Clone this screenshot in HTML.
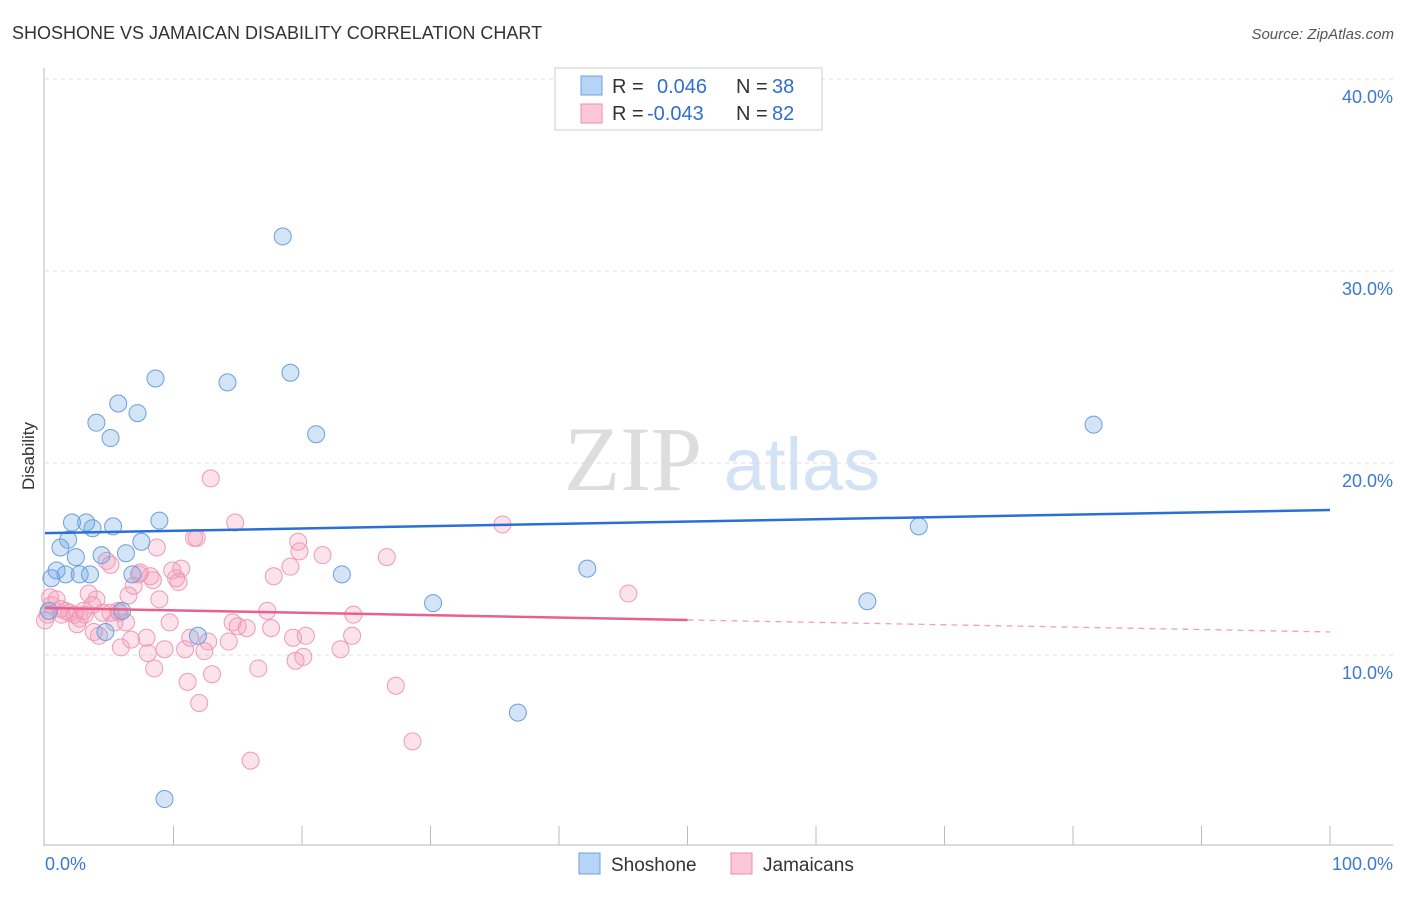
<!DOCTYPE html>
<html><head><meta charset="utf-8"><style>
body{margin:0;background:#fff;font-family:"Liberation Sans",sans-serif;}
svg text{font-family:"Liberation Sans",sans-serif;}
</style></head><body>
<svg id="chart" width="1406" height="892">
<text x="12" y="39" font-size="18" fill="#333">SHOSHONE VS JAMAICAN DISABILITY CORRELATION CHART</text>
<text x="1394" y="39" font-size="15" fill="#555" font-style="italic" text-anchor="end">Source: ZipAtlas.com</text>
<text x="34" y="456" font-size="17" fill="#333" text-anchor="middle" transform="rotate(-90 34 456)">Disability</text>
<g>
<text x="633" y="490" font-size="92" fill="#ddd" font-family="Liberation Serif" text-anchor="middle" style="font-family:'Liberation Serif',serif">ZIP</text>
<text x="802" y="490" font-size="74" fill="#d3e2f4" text-anchor="middle">atlas</text>
</g>
<g id="grid"></g><g id="axes"></g><g id="pts"></g><g id="trend"></g>
<g>
<rect x="555" y="68" width="267" height="62" fill="#fff" stroke="#ccc"/>
<rect x="581" y="76" width="21" height="19" fill="#b7d3f5" stroke="#6ca2e3"/>
<rect x="581" y="104" width="21" height="19" fill="#fcc7d6" stroke="#ec8eac"/>
<text x="612" y="93" font-size="20" fill="#333">R =</text><text x="657" y="93" font-size="20" fill="#2f6fd0">0.046</text>
<text x="736" y="93" font-size="20" fill="#333">N =</text><text x="772" y="93" font-size="20" fill="#2f6fd0">38</text>
<text x="612" y="120" font-size="20" fill="#333">R =</text><text x="647" y="120" font-size="20" fill="#2f6fd0">-0.043</text>
<text x="736" y="120" font-size="20" fill="#333">N =</text><text x="772" y="120" font-size="20" fill="#2f6fd0">82</text>
</g>
<g>
<rect x="579" y="853" width="21" height="21" fill="#b7d3f5" stroke="#6ca2e3"/>
<text x="611" y="871" font-size="19" fill="#333">Shoshone</text>
<rect x="731" y="853" width="21" height="21" fill="#fcc7d6" stroke="#ec8eac"/>
<text x="763" y="871" font-size="19" fill="#333">Jamaicans</text>
</g>
</svg>
<script>
const yTicks=[10,20,30,40];
const yTickLabels=["10.0%","20.0%","30.0%","40.0%"];
const xTickLabels=["0.0%","100.0%"];
const shoshoneX=[18.5,19.1,8.6,14.2,5.7,7.2,4.0,21.1,5.1,81.6,2.1,3.2,5.3,8.9,3.7,68.0,1.8,7.5,1.2,6.3,4.4,2.4,0.9,0.5,1.6,2.7,3.5,6.8,23.1,42.2,6.0,30.2,64.0,0.3,4.7,11.9,36.8,9.3];
const shoshoneY=[31.8,24.7,24.4,24.2,23.1,22.6,22.1,21.5,21.3,22.0,16.9,16.9,16.7,17.0,16.6,16.7,16.0,15.9,15.6,15.3,15.2,15.1,14.4,14.0,14.2,14.2,14.2,14.2,14.2,14.5,12.3,12.7,12.8,12.3,11.2,11.0,7.0,2.5];
const jamX=[12.9,14.8,35.6,11.6,11.8,8.7,19.7,19.8,21.6,26.6,4.8,5.1,19.1,17.8,7.3,8.4,10.2,10.6,9.9,8.2,10.4,6.9,6.5,3.4,4.0,8.9,45.4,0.4,0.9,0.5,1.2,1.6,1.9,2.3,2.7,3.1,4.5,5.1,5.8,6.3,5.4,0.2,0.0,1.3,2.5,17.3,24.0,9.7,14.6,15.0,15.7,17.6,3.8,4.2,6.7,7.9,11.3,12.7,14.3,19.3,20.3,23.9,5.9,9.3,10.9,12.4,23.0,8.0,16.6,19.5,20.1,8.5,13.0,11.1,27.3,12.0,28.6,16.0,7.4,5.7,3.7,3.0];
const jamY=[19.2,16.9,16.8,16.1,16.1,15.6,15.9,15.4,15.2,15.1,14.9,14.7,14.6,14.1,14.2,13.9,14.0,14.5,14.4,14.1,13.8,13.6,13.1,13.2,12.9,12.9,13.2,13.0,12.9,12.6,12.4,12.3,12.2,12.1,11.9,12.1,12.2,12.2,12.2,11.7,11.7,12.1,11.8,12.1,11.6,12.3,12.1,11.7,11.7,11.5,11.4,11.4,11.2,11.0,10.8,10.9,10.9,10.7,10.7,10.9,11.0,11.0,10.4,10.3,10.3,10.2,10.3,10.1,9.3,9.7,9.9,9.3,9.0,8.6,8.4,7.5,5.5,4.5,14.3,12.3,12.6,12.3];
const shoshoneTrend=[16.35,17.55];
const jamTrend=[12.45,11.2];
const X0=45,X1=1330,Y0=847,PY=19.2;
const sx=v=>X0+(X1-X0)*v/100, sy=v=>Y0-v*PY;
const NS="http://www.w3.org/2000/svg";
function mk(tag,attrs,parent){const e=document.createElementNS(NS,tag);for(const k in attrs)e.setAttribute(k,attrs[k]);parent.appendChild(e);return e;}
const grid=document.getElementById('grid'),axes=document.getElementById('axes'),pts=document.getElementById('pts'),tr=document.getElementById('trend');
yTicks.forEach((t,i)=>{
 const l=mk('line',{x1:45,x2:1393,y1:sy(t),y2:sy(t),stroke:'#ddd','stroke-dasharray':'4,4'},grid);
 
 
 const tx=mk('text',{x:1393,y:sy(t)+24,'font-size':18,fill:'#3b78d3','text-anchor':'end'},grid);
 tx.textContent=yTickLabels[i];
 
 
});
const ax=mk('line',{x1:44,x2:44,y1:68,y2:846,stroke:'#bbb'},axes);


const bx=mk('line',{x1:44,x2:1393,y1:845,y2:845,stroke:'#bbb'},axes);


for(let i=1;i<=10;i++){const tk=mk('line',{x1:sx(i*10),x2:sx(i*10),y1:826,y2:845,stroke:'#bbb'},axes);
 
 }
const xl0=mk('text',{x:45,y:870,'font-size':18,fill:'#3b78d3'},axes);xl0.textContent=xTickLabels[0];


const xl1=mk('text',{x:1393,y:870,'font-size':18,fill:'#3b78d3','text-anchor':'end'},axes);xl1.textContent=xTickLabels[1];


jamX.forEach((v,i)=>{const c=mk('circle',{cx:sx(v),cy:sy(jamY[i]),r:8.5,fill:'rgba(245,160,190,0.3)',stroke:'#ee9ab5','stroke-width':1},pts);
 
 });
shoshoneX.forEach((v,i)=>{const c=mk('circle',{cx:sx(v),cy:sy(shoshoneY[i]),r:8.5,fill:'rgba(110,165,230,0.3)',stroke:'#6a9fe0','stroke-width':1},pts);
 
 });
const bl=mk('line',{x1:sx(0),x2:sx(100),y1:sy(shoshoneTrend[0]),y2:sy(shoshoneTrend[1]),stroke:'#2a6fd6','stroke-width':2.5},tr);


const mid=jamTrend[0]+(jamTrend[1]-jamTrend[0])*0.5;
const pl=mk('line',{x1:sx(0),x2:sx(50),y1:sy(jamTrend[0]),y2:sy(mid),stroke:'#e8608e','stroke-width':2.5},tr);


const pd=mk('line',{x1:sx(50),x2:sx(100),y1:sy(mid),y2:sy(jamTrend[1]),stroke:'#eea0b8','stroke-width':1.3,'stroke-dasharray':'6,5'},tr);


</script>
</body></html>
